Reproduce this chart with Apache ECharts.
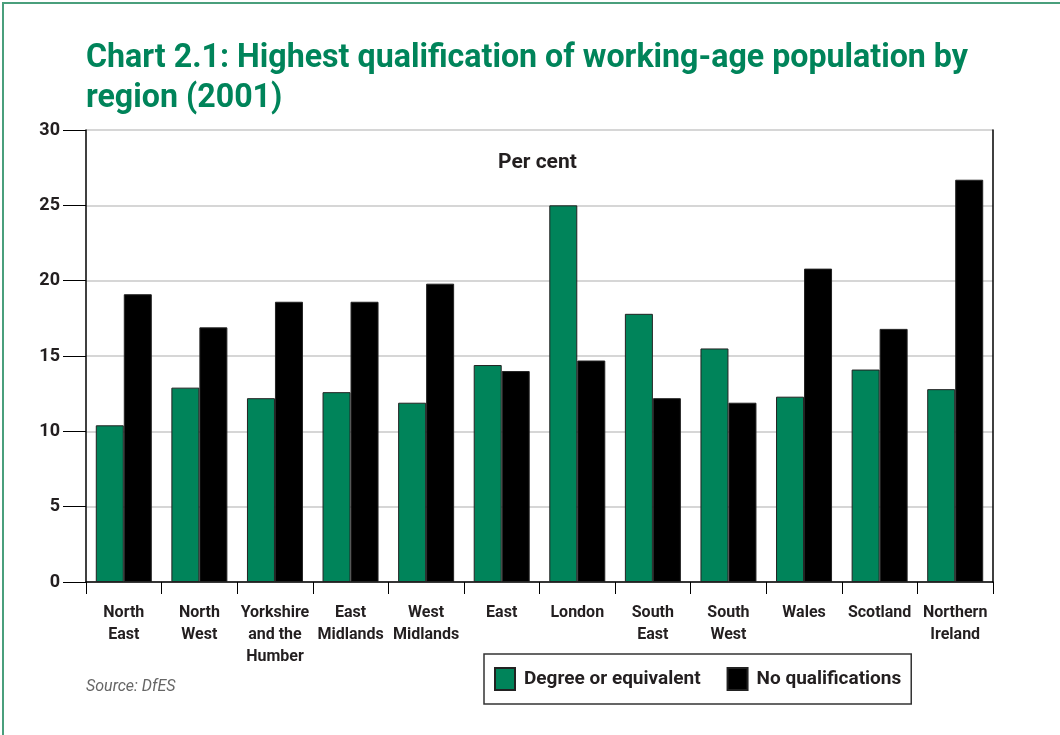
<!DOCTYPE html>
<html lang="en">
  <head>
    <meta charset="UTF-8" />
    <title>Chart 2.1</title>
    <script src="https://cdn.jsdelivr.net/npm/echarts@6/dist/echarts.min.js"></script>
    <style>
      html, body { margin: 0; padding: 0; background: #fff; }
      #frame {
        position: absolute; left: 2px; top: 2px; width: 1100px; height: 800px;
        border-top: 2px solid #4a9f7c; border-left: 2px solid #4a9f7c;
        pointer-events: none;
      }
    </style>
  </head>
  <body>
    <div id="chart" style="width: 1060px; height: 735px"></div>
    <div id="frame"></div>
    <script>
      const regions = ['North\nEast', 'North\nWest', 'Yorkshire\nand the\nHumber', 'East\nMidlands', 'West\nMidlands',
        'East', 'London', 'South\nEast', 'South\nWest', 'Wales', 'Scotland', 'Northern\nIreland'];
      const degree = [10.4, 12.9, 12.2, 12.6, 11.9, 14.4, 25.0, 17.8, 15.5, 12.3, 14.1, 12.8];
      const noQual = [19.1, 16.9, 18.6, 18.6, 19.8, 14.0, 14.7, 12.2, 11.9, 20.8, 16.8, 26.7];

      const titleLine1 = 'Chart 2.1: Highest qualification of working-age population by';
      const titleLine2 = 'region (2001)';

      const green = '#00845a';
      const ink = '#231f20';
      const body = 'Roboto, "Open Sans", sans-serif';

      // the original uses a condensed face, so squeeze the title to the same width
      const titleFont = 'bold 34px Roboto, sans-serif';
      let ctx = document.createElement('canvas').getContext('2d');
      ctx.font = titleFont;
      let titleScale = 882 / ctx.measureText(titleLine1).width;

      let myCharts = echarts.init(document.getElementById('chart'));
      let option = {
        animation: false,
        grid: { left: 86, right: 67, top: 130, bottom: 153 },
        legend: {
          left: 484,
          top: 654,
          orient: 'horizontal',
          borderColor: '#333',
          borderWidth: 1.5,
          padding: [13, 10, 13, 10],
          itemWidth: 20,
          itemHeight: 22,
          itemGap: 26,
          icon: 'rect',
          textStyle: { color: ink, fontFamily: body, fontWeight: 'bold', fontSize: 19, padding: [0, 0, 0, 4] },
          data: ['Degree or equivalent', 'No qualifications'],
        },
        xAxis: {
          type: 'category',
          data: regions,
          axisLine: { lineStyle: { color: '#000', width: 1.5 } },
          axisTick: { show: true, interval: 0, length: 12, lineStyle: { color: '#000' } },
          axisLabel: {
            interval: 0,
            margin: 20,
            color: ink,
            fontFamily: body,
            fontWeight: 'bold',
            fontSize: 16,
            lineHeight: 22,
          },
        },
        yAxis: [
          {
            type: 'value',
            min: 0,
            max: 30,
            interval: 5,
            axisLine: { show: true, lineStyle: { color: '#000', width: 1.5 } },
            axisTick: { show: true, length: 23, lineStyle: { color: '#000' } },
            axisLabel: {
              margin: 26,
              color: ink,
              fontFamily: body,
              fontWeight: 'bold',
              fontSize: 18,
            },
            splitLine: { lineStyle: { color: '#c8c8c8', width: 1.5 } },
          },
          {
            type: 'value',
            min: 0,
            max: 30,
            interval: 5,
            position: 'right',
            axisLine: { show: true, lineStyle: { color: '#000', width: 1.5 } },
            axisTick: { show: false },
            axisLabel: { show: false },
            splitLine: { show: false },
          },
        ],
        graphic: [
          {
            type: 'text',
            x: 86,
            y: 41,
            scaleX: titleScale,
            style: { text: titleLine1, fill: green, font: titleFont, verticalAlign: 'top' },
          },
          {
            type: 'text',
            x: 86,
            y: 81,
            scaleX: titleScale,
            style: { text: titleLine2, fill: green, font: titleFont, verticalAlign: 'top' },
          },
          {
            type: 'text',
            x: 498,
            y: 152,
            style: { text: 'Per cent', fill: ink, font: 'bold 21px Roboto, sans-serif', verticalAlign: 'top' },
          },
          {
            type: 'text',
            x: 86,
            y: 679,
            style: { text: 'Source: DfES', fill: '#666', font: 'italic 16px Roboto, sans-serif', verticalAlign: 'top' },
          },
        ],
        series: [
          {
            name: 'Degree or equivalent',
            type: 'bar',
            data: degree,
            barWidth: 28,
            barGap: '0%',
            itemStyle: { color: green, borderColor: '#222', borderWidth: 1 },
          },
          {
            name: 'No qualifications',
            type: 'bar',
            data: noQual,
            barWidth: 28,
            itemStyle: { color: '#000', borderColor: '#222', borderWidth: 1 },
          },
        ],
      };
      myCharts.setOption(option);
    </script>
  </body>
</html>
